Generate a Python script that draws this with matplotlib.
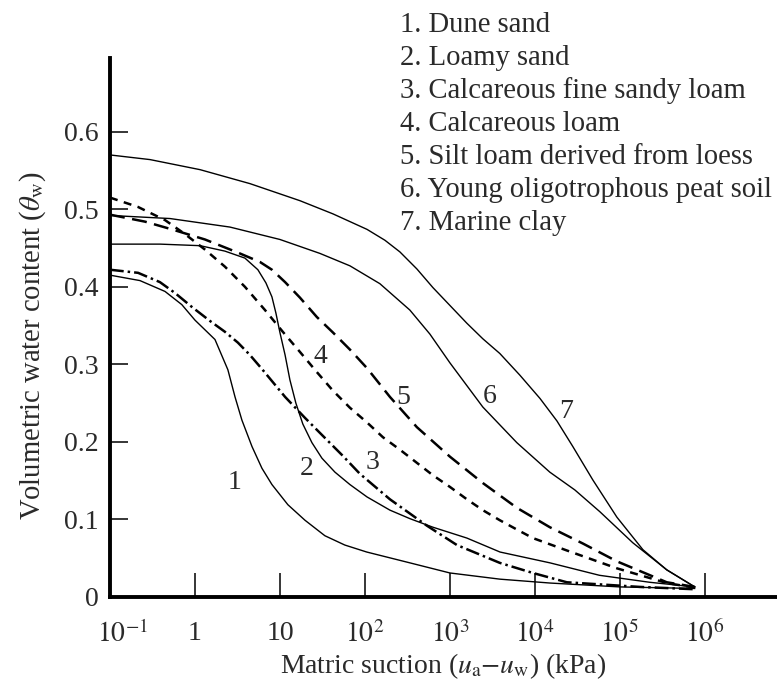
import matplotlib
matplotlib.use("Agg")
import matplotlib.pyplot as plt
from matplotlib.transforms import ScaledTranslation

plt.rcParams["font.family"] = ["Liberation Serif", "DejaVu Serif"]
plt.rcParams["mathtext.fontset"] = "stix"

# matric suction (kPa) and volumetric water content
suction_1 = [0.1, 0.225, 0.444, 0.70, 1.0, 1.72, 2.44, 2.96, 3.57, 4.69, 6.14, 8.05, 12.4, 19.7,
             33.8, 58, 105, 339, 1000, 3890, 15100, 1e5, 7.6e5]
theta_1 = [0.415, 0.408, 0.394, 0.377, 0.357, 0.332, 0.293, 0.258, 0.228, 0.194, 0.166, 0.145, 0.119, 0.099,
           0.079, 0.067, 0.058, 0.044, 0.031, 0.023, 0.018, 0.013, 0.011]

suction_2 = [0.1, 0.39, 1.15, 2.25, 3.87, 5.5, 6.84, 8.05, 8.97, 10, 11.5, 13.1, 15.4, 18.6,
             23.8, 31.2, 44.4, 66.6, 106, 197, 339, 631, 1585, 3890, 15100, 57500, 224000, 760000]
theta_2 = [0.455, 0.455, 0.453, 0.446, 0.437, 0.422, 0.405, 0.387, 0.366, 0.341, 0.312, 0.280, 0.250, 0.223,
           0.199, 0.179, 0.161, 0.145, 0.129, 0.112, 0.101, 0.090, 0.076, 0.058, 0.044, 0.028, 0.019, 0.013]

suction_3 = [0.1, 0.214, 0.387, 0.582, 0.92, 1.5, 2.25, 3.2, 4.44, 6.14, 11.5, 19.7, 31.2, 55,
             87, 197, 536, 1210, 3870, 9470, 23800, 172000, 760000]
theta_3 = [0.422, 0.418, 0.406, 0.392, 0.374, 0.356, 0.342, 0.328, 0.312, 0.294, 0.258, 0.231, 0.209, 0.182,
           0.159, 0.126, 0.092, 0.067, 0.044, 0.031, 0.019, 0.013, 0.010]

suction_4 = [0.1, 0.213, 0.444, 0.762, 1.31, 2.25, 3.87, 6.67, 10.8, 17.2, 27.2, 42.1, 66.7, 106,
             163, 258, 409, 631, 1000, 1585, 2440, 3870, 6140, 9470, 15000, 23800, 92300, 357000, 762000]
theta_4 = [0.515, 0.503, 0.486, 0.468, 0.448, 0.426, 0.400, 0.370, 0.342, 0.316, 0.290, 0.266, 0.244, 0.225,
           0.206, 0.190, 0.173, 0.157, 0.142, 0.126, 0.112, 0.099, 0.087, 0.076, 0.068, 0.060, 0.037, 0.018, 0.012]

suction_5 = [0.1, 0.258, 0.536, 1.31, 3.21, 5.82, 8.05, 11.5, 17.2, 27.2, 42.1, 66.7, 106, 197,
             409, 1000, 2440, 6140, 15000, 36700, 92300, 357000, 762000]
theta_5 = [0.493, 0.484, 0.474, 0.461, 0.444, 0.432, 0.422, 0.406, 0.386, 0.361, 0.341, 0.319, 0.295, 0.258,
           0.219, 0.181, 0.147, 0.115, 0.090, 0.069, 0.046, 0.019, 0.013]

suction_6 = [0.1, 0.508, 2.58, 10, 29.6, 66.7, 150, 338, 582, 1000, 2440, 6140, 15000, 29600,
             58200, 142000, 357000, 762000]
theta_6 = [0.492, 0.488, 0.477, 0.461, 0.443, 0.427, 0.404, 0.370, 0.339, 0.302, 0.245, 0.199, 0.161, 0.138,
           0.110, 0.070, 0.035, 0.013]

suction_7 = [0.1, 0.296, 1.15, 4.44, 17.2, 42.1, 106, 172, 258, 409, 631, 1000, 1585, 2440,
             3870, 6670, 11500, 18200, 28000, 48100, 92300, 187000, 357000, 762000]
theta_7 = [0.570, 0.564, 0.551, 0.533, 0.511, 0.494, 0.474, 0.460, 0.445, 0.423, 0.399, 0.376, 0.353, 0.333,
           0.314, 0.286, 0.256, 0.227, 0.194, 0.151, 0.103, 0.061, 0.035, 0.013]

soil_names = ["Dune sand", "Loamy sand", "Calcareous fine sandy loam", "Calcareous loam",
              "Silt loam derived from loess", "Young oligotrophous peat soil", "Marine clay"]

# where the curve numbers sit (suction, theta)
label_suction = [2.95, 20.8, 124, 29.6, 285, 2960, 23000]
label_theta = [0.148, 0.166, 0.173, 0.310, 0.257, 0.258, 0.239]

x_ticks = [0.1, 1, 10, 1e2, 1e3, 1e4, 1e5, 1e6]
x_tick_labels = [r"$10^{-1}$", "1", "10", r"$10^{2}$", r"$10^{3}$", r"$10^{4}$", r"$10^{5}$", r"$10^{6}$"]
y_ticks = [0, 0.1, 0.2, 0.3, 0.4, 0.5, 0.6]
y_tick_labels = ["0", "0.1", "0.2", "0.3", "0.4", "0.5", "0.6"]

text_color = "#2a2a2a"
fs = 20

fig = plt.figure(figsize=(7.77, 6.93), dpi=100)
ax = fig.add_axes([110 / 777, 1 - 597 / 693, 667 / 777, (597 - 58) / 693])

curves = [(suction_1, theta_1), (suction_2, theta_2), (suction_3, theta_3), (suction_4, theta_4),
          (suction_5, theta_5), (suction_6, theta_6), (suction_7, theta_7)]
styles = [
    dict(lw=1.0, ls="-"),
    dict(lw=1.0, ls="-"),
    dict(lw=1.8, ls=(0, (5.5, 1.6, 1.0, 1.6))),
    dict(lw=1.8, ls=(0, (3.2, 2.6))),
    dict(lw=1.8, ls=(0, (6.0, 3.0))),
    dict(lw=1.0, ls="-"),
    dict(lw=1.0, ls="-"),
]
for (s, t), st in zip(curves, styles):
    ax.plot(s, t, color="black", solid_joinstyle="round", **st)

for i, (lx, ly) in enumerate(zip(label_suction, label_theta)):
    ax.text(lx, ly, str(i + 1), fontsize=fs, color=text_color, ha="center", va="center")

ax.set_xscale("log")
ax.set_xlim(0.1, 10 ** 6.85)
ax.set_ylim(0, 0.695)
ax.set_xticks(x_ticks)
ax.set_xticklabels(x_tick_labels)
ax.set_yticks(y_ticks)
ax.set_yticklabels(y_tick_labels)
ax.xaxis.set_minor_locator(matplotlib.ticker.NullLocator())

ax.tick_params(axis="x", direction="in", length=17, width=1.1, pad=17,
               labelsize=fs, labelcolor=text_color)
ax.tick_params(axis="y", direction="in", length=13, width=1.1, pad=8,
               labelsize=fs, labelcolor=text_color)

# the 10^-1 label sits a little right of the corner
first = ax.get_xticklabels()[0]
first.set_transform(first.get_transform() + ScaledTranslation(13 / 100, 0, fig.dpi_scale_trans))

for side in ["top", "right"]:
    ax.spines[side].set_visible(False)
for side in ["left", "bottom"]:
    ax.spines[side].set_linewidth(2.8)

ax.set_xlabel(r"Matric suction ($u_\mathrm{a}$$-$$u_\mathrm{w}$) (kPa)", fontsize=fs,
              color=text_color, labelpad=2)
ax.set_ylabel(r"Volumetric water content ($\theta_\mathrm{w}$)", fontsize=20.6,
              color=text_color, labelpad=12)
ax.yaxis.label.set_y(0.467)

# legend as numbered text lines in the upper right
for i, name in enumerate(soil_names):
    fig.text(400 / 777, 1 - (25 + 33 * i) / 693, f"{i + 1}. {name}", fontsize=20.6,
             color=text_color, ha="left", va="center")

fig.savefig("out.png", dpi=100)
